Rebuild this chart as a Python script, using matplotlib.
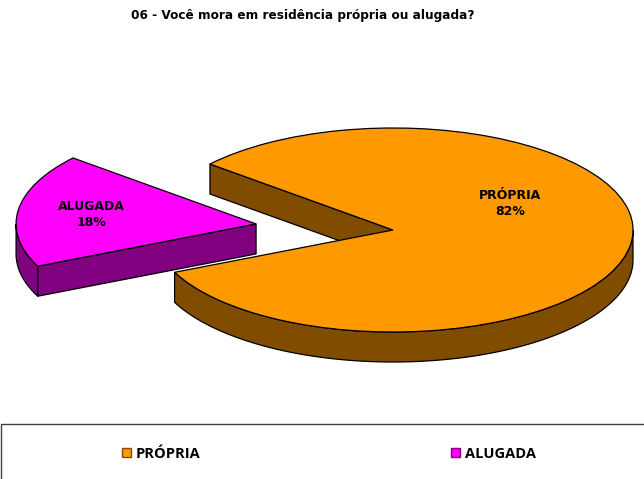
import numpy as np
import matplotlib
matplotlib.use("Agg")
import matplotlib.pyplot as plt
from matplotlib.patches import Polygon, Rectangle

categories = ["PRÓPRIA", "ALUGADA"]
values = [82, 18]
colors = ["#FF9900", "#FF00FF"]
side_colors = ["#804D00", "#800080"]
title = "06 - Você mora em residência própria ou alugada?"

W, H = 644, 479
# pie centre and radii in pixels, wall height in pixels
cx, cy, rx, ry, depth = 393, 230, 240, 102, 30
d = depth / ry

fig = plt.figure(figsize=(W / 100, H / 100), dpi=100)
ax = fig.add_axes([0, 0, 1, 1])

wedges, _ = ax.pie(values, colors=colors, startangle=204.5, explode=[0, 0.576],
                   wedgeprops={"edgecolor": "black", "linewidth": 0.9})
ax.set_aspect("auto")
ax.set_xlim(-cx / rx, (W - cx) / rx)
ax.set_ylim((cy - H) / ry, cy / ry)

# exploded slice sits a little lower than the explode direction gives
wedges[1].set_center((wedges[1].center[0], wedges[1].center[1] - 2 / ry))

for w, side in zip(wedges, side_colors):
    w.set_zorder(3)
    x0, y0 = w.center
    t1 = w.theta1
    t2 = w.theta2
    # second wedge comes back past 360 degrees
    if t1 >= 360:
        t1 -= 360
        t2 -= 360
    # outer rim, only the front part shows
    a = np.radians(np.linspace(max(t1, 180), min(t2, 360), 120))
    xs = x0 + w.r * np.cos(a)
    ys = y0 + w.r * np.sin(a)
    rim = np.vstack([np.c_[xs, ys], np.c_[xs[::-1], ys[::-1] - d]])
    ax.add_patch(Polygon(rim, closed=True, fc=side, ec="black", lw=0.9, zorder=2))
    # cut wall on the closing edge
    e = np.radians(t2)
    ex = x0 + w.r * np.cos(e)
    ey = y0 + w.r * np.sin(e)
    wall = [(x0, y0), (ex, ey), (ex, ey - d), (x0, y0 - d)]
    ax.add_patch(Polygon(wall, closed=True, fc=side, ec="black", lw=0.9, zorder=1))

fig.text(303 / W, 1 - 15.5 / H, title, ha="center", va="center",
         fontsize=8.7, fontweight="bold", family="DejaVu Sans")

fig.text(510 / W, 1 - 204 / H, f"{categories[0]}\n{values[0]}%", ha="center", va="center",
         fontsize=9, fontweight="bold", family="DejaVu Sans", linespacing=1.3, zorder=5)
fig.text(91 / W, 1 - 215 / H, f"{categories[1]}\n{values[1]}%", ha="center", va="center",
         fontsize=9, fontweight="bold", family="DejaVu Sans", linespacing=1.3, zorder=5)

# legend box runs off the right and bottom of the picture
fig.add_artist(Rectangle((1 / W, -0.01), 1, 1 - 424 / H + 0.01, transform=fig.transFigure,
                         fc="white", ec="#404040", lw=1.0))
leg = fig.legend(wedges, categories, ncol=2, frameon=False, loc="center",
                 bbox_to_anchor=(329 / W, 1 - 454 / H),
                 prop={"family": "Open Sans", "weight": "bold", "size": 10.5},
                 handlelength=0.6, handleheight=0.6, handletextpad=0.35, columnspacing=17.2)
for h, side in zip(leg.get_patches(), side_colors):
    h.set_edgecolor(side)
    h.set_linewidth(1.0)

fig.savefig("out.png", dpi=100)
